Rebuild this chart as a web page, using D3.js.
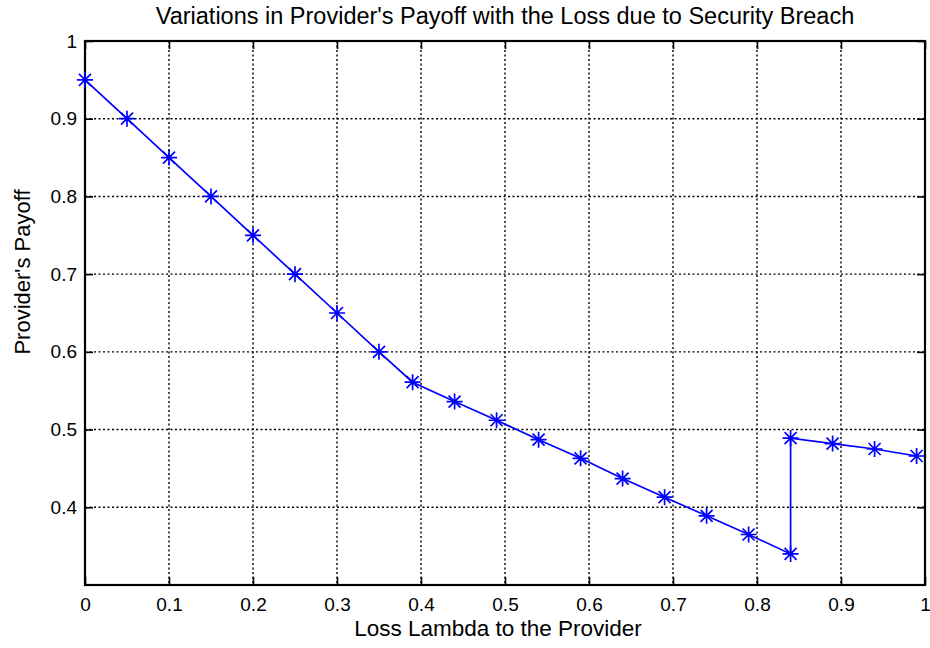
<!DOCTYPE html>
<html><head><meta charset="utf-8">
<script src="https://cdn.jsdelivr.net/npm/d3@7"></script>
<style>body{margin:0;background:#fff}svg{display:block}text{font-family:"Liberation Sans",Arial,sans-serif;fill:#000}</style>
</head><body><svg id="c" width="930" height="648"></svg>
<script>
const lossLambda = [0,0.05,0.10,0.15,0.20,0.25,0.30,0.35,0.39,0.44,0.49,0.54,0.59,0.64,0.69,0.74,0.79,0.84,0.84,0.89,0.94,0.99];
const payoff = [0.95,0.90,0.85,0.80,0.75,0.70,0.65,0.60,0.561,0.536,0.512,0.487,0.463,0.437,0.413,0.389,0.365,0.340,0.489,0.482,0.475,0.466];
const xTicks = [0,0.1,0.2,0.3,0.4,0.5,0.6,0.7,0.8,0.9,1];
const yTicks = [0.4,0.5,0.6,0.7,0.8,0.9,1];
const xDomain = [0,1], yDomain = [0.3,1];
const titleText = "Variations in Provider's Payoff with the Loss due to Security Breach";
const xLabelText = "Loss Lambda to the Provider";
const yLabelText = "Provider's Payoff";

const svg = d3.select("#c");
const L=85,R=925,T=41,B=585;
const x = d3.scaleLinear().domain(xDomain).range([L,R]);
const y = d3.scaleLinear().domain(yDomain).range([B,T]);
const fmt = d => String(+d.toFixed(1));

// grid
const g = svg.append("g");
g.selectAll(".gx").data(xTicks.filter(d=>d>0&&d<1)).join("line")
 .attr("x1",d=>x(d)).attr("x2",d=>x(d)).attr("y1",T).attr("y2",B)
 .attr("stroke","#000").attr("stroke-width",1.4).attr("stroke-dasharray","2,2.5");
g.selectAll(".gy").data(yTicks.filter(d=>d<1)).join("line")
 .attr("y1",d=>y(d)).attr("y2",d=>y(d)).attr("x1",L).attr("x2",R)
 .attr("stroke","#000").attr("stroke-width",1.4).attr("stroke-dasharray","2,2.5");

// axes with inward ticks
const tl=8;
const axB = svg.append("g").attr("transform",`translate(0,${B})`)
 .call(d3.axisBottom(x).tickValues(xTicks).tickSize(-tl).tickPadding(13).tickFormat(fmt));
const axT = svg.append("g").attr("transform",`translate(0,${T})`)
 .call(d3.axisTop(x).tickValues(xTicks).tickSize(-tl).tickFormat(""));
const axL = svg.append("g").attr("transform",`translate(${L},0)`)
 .call(d3.axisLeft(y).tickValues(yTicks).tickSize(-tl).tickPadding(8).tickFormat(fmt));
const axR = svg.append("g").attr("transform",`translate(${R},0)`)
 .call(d3.axisRight(y).tickValues(yTicks).tickSize(-tl).tickFormat(""));
[axB,axT,axL,axR].forEach(a=>{
  a.select(".domain").remove();
  a.selectAll("line").attr("stroke","#000").attr("stroke-width",1.6);
  a.selectAll("text").attr("font-size",19).attr("font-family",'"Liberation Sans",Arial,sans-serif').attr("fill","#000");
});
svg.append("rect").attr("x",L).attr("y",T).attr("width",R-L).attr("height",B-T)
 .attr("fill","none").attr("stroke","#000").attr("stroke-width",2.2);

// line
const pts = lossLambda.map((d,i)=>[d,payoff[i]]);
svg.append("path").datum(pts)
 .attr("d",d3.line().x(d=>x(d[0])).y(d=>y(d[1])))
 .attr("fill","none").attr("stroke","#0000ff").attr("stroke-width",1.7);
const s=8, s2=6;
const mk = svg.append("g").selectAll("g").data(pts).join("g")
 .attr("transform",d=>`translate(${x(d[0])},${y(d[1])})`);
mk.append("path").attr("d",`M${-s},0H${s}M0,${-s}V${s}M${-s2},${-s2}L${s2},${s2}M${-s2},${s2}L${s2},${-s2}`)
 .attr("stroke","#0000ff").attr("stroke-width",1.7).attr("fill","none");

// labels
svg.append("text").attr("x",505).attr("y",24).attr("text-anchor","middle").attr("font-size",23.5).text(titleText);
svg.append("text").attr("x",498).attr("y",636).attr("text-anchor","middle").attr("font-size",22.5).text(xLabelText);
svg.append("text").attr("transform",`translate(30,272) rotate(-90)`).attr("text-anchor","middle").attr("font-size",22).text(yLabelText);
</script></body></html>
